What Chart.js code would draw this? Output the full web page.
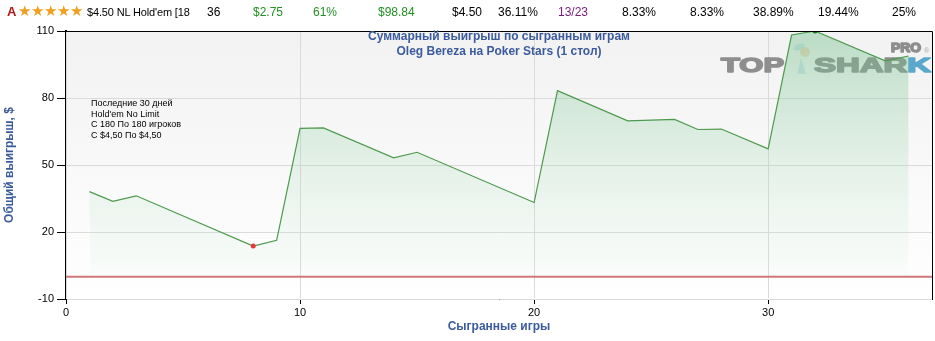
<!DOCTYPE html>
<html lang="ru">
<head>
  <meta charset="UTF-8">
  <title>Суммарный выигрыш</title>
  <script src="https://cdn.jsdelivr.net/npm/chart.js@4.4.1/dist/chart.umd.min.js"></script>
  <style>
    body { margin: 0; background: #fff; font-family: "Liberation Sans", Arial, sans-serif; }
    #wrap { position: relative; width: 935px; height: 341px; }
    #head { position: absolute; left: 0; top: 0; width: 935px; height: 22px; font-size: 12px; z-index: 2; }
    #head span { position: absolute; top: 5px; white-space: nowrap; }
    .g { color: #239023; }
    .p { color: #7a1a7a; }
    .stars { color: #f0a020; font-size: 14.5px; top: 3px !important; }
    #note { position: absolute; left: 91px; top: 98px; font-size: 9px; line-height: 10.5px; color: #000; z-index: 2; }
  </style>
</head>
<body>
<div id="wrap">
  <div id="head">
    <span style="left:7px;color:#b41616;font-weight:bold;font-size:13px;top:4px">A</span>
    <span class="stars" style="left:18px">★★★★★</span>
    <span style="left:87px;font-size:11px;letter-spacing:-0.15px;top:6px">$4.50 NL Hold'em [18</span>
    <span style="left:207px">36</span>
    <span class="g" style="left:253px">$2.75</span>
    <span class="g" style="left:313px">61%</span>
    <span class="g" style="left:378px">$98.84</span>
    <span style="left:452px">$4.50</span>
    <span style="left:498px">36.11%</span>
    <span class="p" style="left:558px">13/23</span>
    <span style="left:622px">8.33%</span>
    <span style="left:690px">8.33%</span>
    <span style="left:753px">38.89%</span>
    <span style="left:818px">19.44%</span>
    <span style="left:892px">25%</span>
  </div>
  <div id="note">Последние 30 дней<br>Hold'em No Limit<br>С 180 По 180 игроков<br>С $4,50 По $4,50</div>
  <canvas id="chart" width="935" height="341"></canvas>
</div>

<script>
// games where the line changes direction, and total winnings there ($)
const games = [1, 2, 3, 8, 9, 10, 11, 14, 15, 20, 21, 24, 26, 27, 28, 30, 31, 32, 35, 36];
const winnings = [38.1, 33.7, 36.2, 13.7, 16.25, 66.4, 66.6, 53.2, 55.7, 33.2, 83.3, 69.8, 70.4, 65.9, 66.1, 57.2, 108.2, 110, 96.6, 98.8];
const xTicks = [0, 10, 20, 30];
const yTicks = [-10, 20, 50, 80, 110];
const titleLines = ['Суммарный выигрыш по сыгранным играм', 'Oleg Bereza на Poker Stars (1 стол)'];

const blue = '#3b5b9d';
const font = '"Liberation Sans", Arial, sans-serif';

const minIdx = winnings.indexOf(Math.min(...winnings));
const maxIdx = winnings.indexOf(Math.max(...winnings));

// stretched, heavy text for the watermark
function wideText(ctx, text, x, y, width, color) {
  const w = ctx.measureText(text).width;
  ctx.save();
  ctx.translate(x, y);
  ctx.scale(width / w, 1);
  ctx.fillStyle = color;
  ctx.strokeStyle = color;
  ctx.lineWidth = 1.6;
  ctx.lineJoin = 'round';
  ctx.strokeText(text, 0, 0);
  ctx.fillText(text, 0, 0);
  ctx.restore();
}

// plot background, logo, frame, zero line and title
const decor = {
  id: 'decor',
  beforeDatasetsDraw(chart) {
    const {ctx, chartArea: a} = chart;
    ctx.save();
    const bg = ctx.createLinearGradient(0, a.top, 0, a.bottom);
    bg.addColorStop(0, '#f2f2f2');
    bg.addColorStop(1, '#ffffff');
    ctx.fillStyle = bg;
    ctx.fillRect(a.left, a.top, a.right - a.left, a.bottom - a.top);
    ctx.restore();

    // redraw grid over the background
    chart.scales.x.drawGrid(a);
    chart.scales.y.drawGrid(a);

    // watermark
    ctx.save();
    ctx.textBaseline = 'alphabetic';
    ctx.font = 'bold 21px ' + font;
    wideText(ctx, 'TOP', 721, 72, 63, '#8e8e8e');

    ctx.globalAlpha = 0.45;
    ctx.fillStyle = '#f2b483';
    ctx.beginPath(); ctx.arc(805, 52, 5, 0, Math.PI * 2); ctx.fill();
    ctx.fillStyle = '#9fd0e2';
    ctx.beginPath(); ctx.ellipse(799, 47, 6, 3, -0.4, 0, Math.PI * 2); ctx.fill();
    ctx.beginPath(); ctx.moveTo(801, 58); ctx.lineTo(806, 74); ctx.lineTo(797, 74); ctx.closePath(); ctx.fill();
    ctx.globalAlpha = 1;

    const ws = ctx.measureText('SHAR').width;
    const wk = ctx.measureText('K').width;
    wideText(ctx, 'SHAR', 814, 72, 117 * ws / (ws + wk), '#8e8e8e');
    wideText(ctx, 'K', 814 + 117 * ws / (ws + wk), 72, 117 * wk / (ws + wk), '#5aa9cc');

    ctx.font = 'bold 13px ' + font;
    wideText(ctx, 'PRO', 891, 52, 30, '#8e8e8e');
    ctx.font = '7px ' + font;
    ctx.fillStyle = '#aaa';
    ctx.fillText('®', 924, 53);
    ctx.restore();
  },
  afterDatasetsDraw(chart) {
    const {ctx, chartArea: a, scales} = chart;
    ctx.save();
    const y0 = scales.y.getPixelForValue(0);
    ctx.strokeStyle = '#d07878';
    ctx.lineWidth = 2;
    ctx.beginPath(); ctx.moveTo(a.left, y0); ctx.lineTo(a.right, y0); ctx.stroke();

    ctx.strokeStyle = '#000';
    ctx.lineWidth = 1;
    ctx.beginPath();
    ctx.moveTo(a.left, a.top + 0.5); ctx.lineTo(a.right + 0.5, a.top + 0.5);
    ctx.lineTo(a.right + 0.5, a.bottom);
    ctx.stroke();

    ctx.fillStyle = blue;
    ctx.font = 'bold 12px ' + font;
    ctx.textAlign = 'center';
    ctx.textBaseline = 'middle';
    const cx = (a.left + a.right) / 2;
    titleLines.forEach((t, i) => ctx.fillText(t, cx, a.top + 6 + i * 15));
    ctx.restore();
  }
};

const ctx = document.getElementById('chart').getContext('2d');
const myChart = new Chart(ctx, {
  type: 'line',
  data: {
    datasets: [{
      data: games.map((g, i) => ({x: g, y: winnings[i]})),
      borderColor: '#4c9a4c',
      borderWidth: 1.2,
      tension: 0,
      fill: 'origin',
      backgroundColor(c) {
        const a = c.chart.chartArea;
        if (!a) return 'rgba(120,190,140,0.3)';
        const y0 = c.chart.scales.y.getPixelForValue(0);
        const g = c.chart.ctx.createLinearGradient(0, a.top, 0, y0);
        g.addColorStop(0, 'rgba(110,190,135,0.42)');
        g.addColorStop(1, 'rgba(200,235,210,0.08)');
        return g;
      },
      pointRadius: c => (c.dataIndex === minIdx || c.dataIndex === maxIdx) ? 2.5 : 0,
      pointBackgroundColor: c => c.dataIndex === minIdx ? '#e03a3a' : '#1f7a1f',
      pointBorderWidth: 0
    }]
  },
  options: {
    responsive: false,
    animation: false,
    layout: {padding: {top: 31, right: 3, left: 0, bottom: 0}},
    plugins: {legend: {display: false}, tooltip: {enabled: false}},
    scales: {
      x: {
        type: 'linear',
        min: 0,
        max: 37,
        afterBuildTicks: s => { s.ticks = xTicks.map(v => ({value: v})); },
        afterFit: s => { s.height = 42; },
        grid: {color: '#dadada', tickColor: '#000', tickLength: 5, lineWidth: 1},
        border: {color: '#000', width: 2},
        ticks: {color: '#000', font: {size: 11, family: font}, padding: 2, maxRotation: 0},
        title: {display: true, text: 'Сыгранные игры', color: blue, font: {size: 12, weight: 'bold', family: font}, padding: {top: 0, bottom: 7}}
      },
      y: {
        min: -10,
        max: 110,
        afterBuildTicks: s => { s.ticks = yTicks.map(v => ({value: v})); },
        afterFit: s => { s.width = 66; },
        grid: {color: '#dadada', tickColor: '#000', tickLength: 9, lineWidth: 1},
        border: {color: '#000', width: 2},
        ticks: {color: '#000', font: {size: 11, family: font}, padding: 3},
        title: {display: true, text: 'Общий выигрыш, $', color: blue, font: {size: 12, weight: 'bold', family: font}, padding: {top: 2, bottom: 0}}
      }
    }
  },
  plugins: [decor]
});
</script>
</body>
</html>
